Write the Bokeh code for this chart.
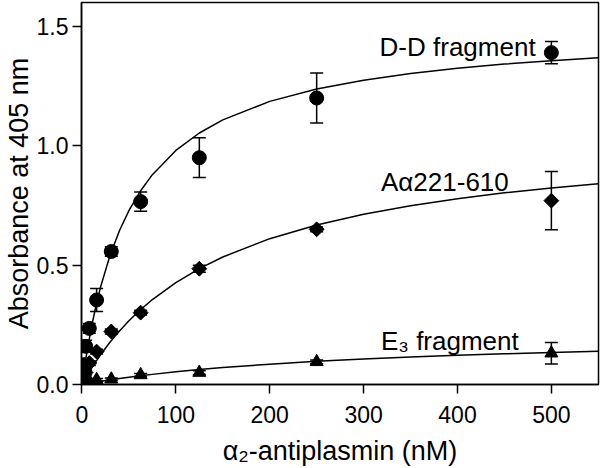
from bokeh.plotting import figure
from bokeh.models import ColumnDataSource, Whisker, TeeHead, FixedTicker, PrintfTickFormatter, Label, Range1d
from bokeh.embed import file_html
from bokeh.resources import INLINE

# alpha2-antiplasmin concentrations (nM)
conc = [0.98, 1.95, 3.9, 7.8, 15.6, 31.25, 62.5, 125, 250, 500]

# D-D fragment
dd_y = [0.02, 0.083, 0.16, 0.235, 0.354, 0.557, 0.766, 0.95, 1.20, 1.39]
dd_err = [0.01, 0.015, 0.025, 0.02, 0.048, 0.02, 0.04, 0.083, 0.105, 0.047]

# A-alpha 221-610
aa_y = [0.015, 0.03, 0.05, 0.09, 0.138, 0.222, 0.301, 0.485, 0.65, 0.77]
aa_err = [0.005, 0.005, 0.01, 0.01, 0.01, 0.01, 0.01, 0.015, 0.01, 0.122]

# E3 fragment
e3_y = [0.008, 0.01, 0.012, 0.015, 0.02, 0.022, 0.04, 0.05, 0.095, 0.131]
e3_err = [0.004, 0.004, 0.004, 0.005, 0.005, 0.005, 0.006, 0.008, 0.008, 0.045]

# fitted curves
curve_x = [0, 2, 5, 10, 15, 20, 30, 40, 50, 62.5, 75, 100, 125, 150, 200, 250, 300, 350, 400, 450, 500, 550]
dd_fit = [0, 0.0545, 0.1293, 0.2381, 0.3309, 0.4110, 0.5422, 0.6452, 0.7282, 0.8117, 0.8789, 0.9804,
          1.0534, 1.1084, 1.1858, 1.2376, 1.2748, 1.3027, 1.3245, 1.3419, 1.3562, 1.3682]
aa_fit = [0, 0.0140, 0.0344, 0.0666, 0.0969, 0.1254, 0.1777, 0.2245, 0.2667, 0.3138, 0.3558, 0.4271,
          0.4855, 0.5342, 0.6108, 0.6683, 0.7131, 0.7489, 0.7780, 0.8027, 0.8233, 0.8411]
e3_fit = [0, 0.0014, 0.0035, 0.0068, 0.0101, 0.0132, 0.0192, 0.0249, 0.0302, 0.0365, 0.0424, 0.0531,
          0.0625, 0.0709, 0.0852, 0.0970, 0.1068, 0.1152, 0.1223, 0.1285, 0.1340, 0.1388]

x_ticks = [0, 100, 200, 300, 400, 500]
y_ticks = [0.0, 0.5, 1.0, 1.5]

FONT = "Liberation Sans"

p = figure(width=600, height=468, x_range=Range1d(-0.5, 550.2), y_range=Range1d(0, 1.6),
           output_backend="svg", toolbar_location=None,
           min_border_left=76, min_border_right=2, min_border_top=2, min_border_bottom=82)
p.xgrid.visible = False
p.ygrid.visible = False
p.outline_line_color = "black"
p.outline_line_width = 1.5
p.outline_line_alpha = 1.0

p.xaxis.ticker = FixedTicker(ticks=x_ticks)
p.yaxis.ticker = FixedTicker(ticks=y_ticks)
p.yaxis.formatter = PrintfTickFormatter(format="%.1f")
p.xaxis.axis_label = "α₂-antiplasmin (nM)"
p.yaxis.axis_label = "Absorbance at 405 nm"
for ax in (p.xaxis, p.yaxis):
    ax.axis_line_width = 1.5
    ax.axis_line_color = "black"
    ax.major_tick_line_width = 1.5
    ax.major_tick_line_color = "black"
    ax.major_tick_out = 9
    ax.major_tick_in = 0
    ax.minor_tick_out = 0
    ax.minor_tick_in = 0
    ax.major_label_text_font = FONT
    ax.major_label_text_font_size = "23px"
    ax.major_label_text_color = "black"
    ax.axis_label_text_font = FONT
    ax.axis_label_text_font_size = "27px"
    ax.axis_label_text_font_style = "normal"
    ax.axis_label_text_color = "black"
p.yaxis.major_label_standoff = 4
p.yaxis.axis_label_standoff = 0
p.xaxis.major_label_standoff = 12
p.xaxis.axis_label_standoff = 10
p.xaxis.major_label_text_line_height = 0.8
p.xaxis.axis_label_text_line_height = 0.8

# curves
for fit in (dd_fit, aa_fit, e3_fit):
    p.line(curve_x, fit, line_color="black", line_width=1.5)

# error bars
for ys, errs in ((dd_y, dd_err), (aa_y, aa_err), (e3_y, e3_err)):
    src = ColumnDataSource(dict(base=conc,
                                upper=[v + e for v, e in zip(ys, errs)],
                                lower=[v - e for v, e in zip(ys, errs)]))
    w = Whisker(base="base", upper="upper", lower="lower", source=src,
                line_color="black", line_width=1.5,
                upper_head=TeeHead(size=13, line_color="black", line_width=1.5),
                lower_head=TeeHead(size=13, line_color="black", line_width=1.5))
    p.add_layout(w)

# markers
p.scatter(conc, dd_y, marker="circle", size=14, fill_color="black", line_color="black")
p.scatter(conc, aa_y, marker="square", angle=0.785398, size=10.5, fill_color="black", line_color="black")
p.scatter(conc, e3_y, marker="triangle", size=13, fill_color="black", line_color="black")

for x, y, t in ((317, 1.414, "D-D fragment"), (318.5, 0.848, "Aα221-610"), (318.5, 0.181, "E₃ fragment")):
    p.add_layout(Label(x=x, y=y, text=t, text_font=FONT, text_font_size="26px",
                       text_color="black", text_baseline="alphabetic", text_align="left"))

open("out.html", "w").write(file_html(p, INLINE))
